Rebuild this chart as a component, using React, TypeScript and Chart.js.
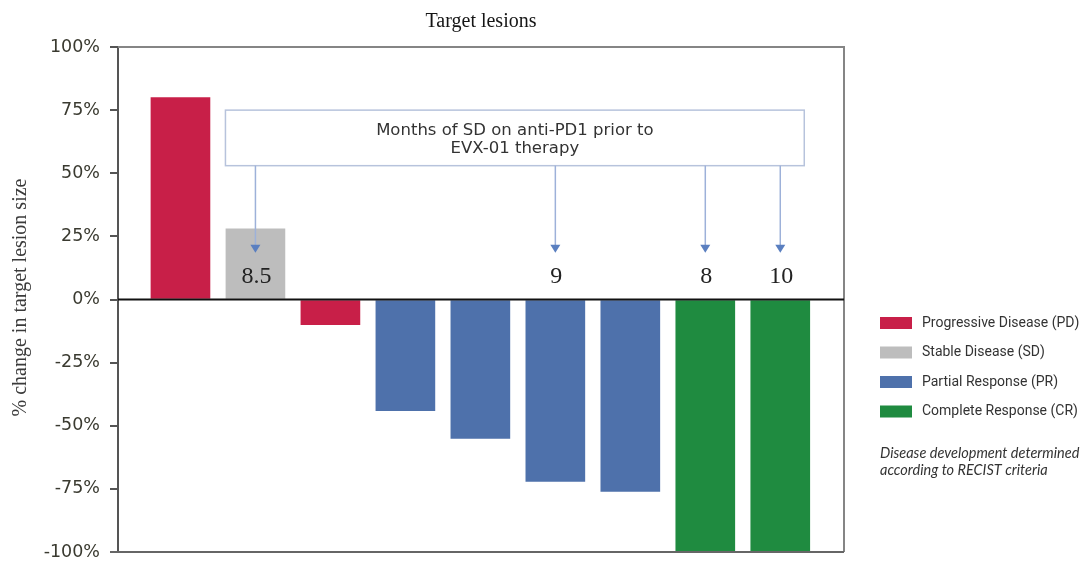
import React, { useEffect, useRef } from 'react';
import { Chart, registerables } from 'chart.js';

Chart.register(...registerables);

const patients = [1, 2, 3, 4, 5, 6, 7, 8, 9];
const changes = [80, 28, -10, -44, -55, -72, -76, -100, -100];
const responses = ['PD', 'SD', 'PD', 'PR', 'PR', 'PR', 'PR', 'CR', 'CR'];
const monthsSD: (string | null)[] = [null, '8.5', null, null, null, '9', null, '8', '10'];
const yTickValues = [100, 75, 50, 25, 0, -25, -50, -75, -100];
const responseKeys = ['PD', 'SD', 'PR', 'CR'];
const responseLabels = [
  'Progressive Disease (PD)',
  'Stable Disease (SD)',
  'Partial Response (PR)',
  'Complete Response (CR)',
];
const responseColors = ['#c81f48', '#bdbdbd', '#4e71ab', '#1f8b40'];
const titleText = 'Target lesions';
const yTitleText = '% change in target lesion size';
const boxLines = ['Months of SD on anti-PD1 prior to', 'EVX-01 therapy'];
const noteLines = ['Disease development determined', 'according to RECIST criteria'];

const overlayPlugin = {
  id: 'overlay',
  afterDraw(chart: any) {
    const ctx = chart.ctx;
    const area = chart.chartArea;
    const xs = chart.scales.x;
    const ys = chart.scales.y;
    ctx.save();

    // frame
    ctx.strokeStyle = '#858585';
    ctx.lineWidth = 2;
    ctx.beginPath();
    ctx.moveTo(area.left, area.top);
    ctx.lineTo(area.right, area.top);
    ctx.lineTo(area.right, area.bottom);
    ctx.stroke();
    ctx.strokeStyle = '#666';
    ctx.beginPath();
    ctx.moveTo(area.left - 8, area.bottom);
    ctx.lineTo(area.right, area.bottom);
    ctx.stroke();

    // zero line
    const y0 = ys.getPixelForValue(0);
    ctx.strokeStyle = '#111';
    ctx.lineWidth = 2;
    ctx.beginPath();
    ctx.moveTo(area.left, y0);
    ctx.lineTo(area.right, y0);
    ctx.stroke();

    // title
    ctx.fillStyle = '#151515';
    ctx.font = '20px "Liberation Serif", serif';
    ctx.textAlign = 'center';
    ctx.textBaseline = 'middle';
    ctx.fillText(titleText, (area.left + area.right) / 2, 22);

    // y title
    ctx.save();
    ctx.translate(21, (area.top + area.bottom) / 2 - 2);
    ctx.rotate(-Math.PI / 2);
    ctx.font = '20px "Liberation Serif", serif';
    ctx.fillStyle = '#3a3a3a';
    ctx.fillText(yTitleText, 0, 0);
    ctx.restore();

    // annotation box
    const bx1 = xs.getPixelForValue(1.6);
    const bx2 = xs.getPixelForValue(9.32);
    const by1 = ys.getPixelForValue(75);
    const by2 = ys.getPixelForValue(53);
    ctx.fillStyle = '#ffffff';
    ctx.fillRect(bx1, by1, bx2 - bx1, by2 - by1);
    ctx.strokeStyle = '#b7c3dc';
    ctx.lineWidth = 1.5;
    ctx.strokeRect(bx1, by1, bx2 - bx1, by2 - by1);
    ctx.fillStyle = '#333';
    ctx.font = '16.5px "DejaVu Sans", sans-serif';
    ctx.textAlign = 'center';
    ctx.textBaseline = 'middle';
    const bcx = (bx1 + bx2) / 2;
    ctx.fillText(boxLines[0], bcx, by1 + 21);
    ctx.fillText(boxLines[1], bcx, by1 + 39);

    // arrows and month labels
    monthsSD.forEach((m, i) => {
      if (m == null) return;
      const x = xs.getPixelForValue(patients[i]);
      const tip = ys.getPixelForValue(18.5);
      ctx.strokeStyle = '#9db1d9';
      ctx.lineWidth = 1.5;
      ctx.beginPath();
      ctx.moveTo(x, by2);
      ctx.lineTo(x, tip - 6);
      ctx.stroke();
      ctx.fillStyle = '#5a7fc0';
      ctx.beginPath();
      ctx.moveTo(x - 5, tip - 8);
      ctx.lineTo(x + 5, tip - 8);
      ctx.lineTo(x, tip);
      ctx.closePath();
      ctx.fill();
      ctx.fillStyle = '#222';
      ctx.font = '24px "Liberation Serif", serif';
      ctx.textAlign = 'center';
      ctx.textBaseline = 'middle';
      ctx.fillText(m, x + 1, ys.getPixelForValue(9));
    });

    // legend
    const lx = area.right + 36;
    const ly0 = 323;
    responseLabels.forEach((lab, i) => {
      const y = ly0 + i * 29.5;
      ctx.fillStyle = responseColors[i];
      ctx.fillRect(lx, y - 6, 32, 12);
      ctx.fillStyle = '#333';
      ctx.font = '14px Roboto, sans-serif';
      ctx.textAlign = 'left';
      ctx.textBaseline = 'middle';
      ctx.fillText(lab, lx + 42, y);
    });
    ctx.font = 'italic 14.5px Lato, sans-serif';
    ctx.fillStyle = '#333';
    ctx.textAlign = 'left';
    ctx.fillText(noteLines[0], lx, 453);
    ctx.fillText(noteLines[1], lx, 470);

    ctx.restore();
  },
};

export default function App() {
  const ref = useRef<HTMLCanvasElement | null>(null);
  useEffect(() => {
    if (!ref.current) return;
    const chart = new Chart(ref.current, {
      type: 'bar',
      data: {
        datasets: [
          {
            data: patients.map((p, i) => ({ x: p, y: changes[i] })),
            backgroundColor: responses.map((r) => responseColors[responseKeys.indexOf(r)]),
            borderWidth: 0,
            barThickness: 59,
          } as any,
        ],
      },
      options: {
        animation: false,
        responsive: true,
        maintainAspectRatio: false,
        layout: { padding: { left: 0, top: 47, right: 244, bottom: 10 } },
        plugins: { legend: { display: false }, tooltip: { enabled: false } },
        scales: {
          x: {
            type: 'linear',
            min: 0.167,
            max: 9.85,
            offset: false,
            grid: { offset: false },
            display: false,
          },
          y: {
            min: -100,
            max: 100,
            afterBuildTicks: (scale: any) => {
              scale.ticks = yTickValues.map((v) => ({ value: v }));
            },
            afterFit: (scale: any) => {
              scale.width = 118;
              scale.paddingTop = 0;
              scale.paddingBottom = 0;
            },
            ticks: {
              callback: (v: any) => v + '%',
              color: '#3a3a30',
              padding: 10,
              font: { family: '"DejaVu Sans", sans-serif', size: 17.5 },
            },
            grid: {
              drawOnChartArea: false,
              drawTicks: true,
              tickLength: 8,
              color: '#555',
              lineWidth: 2,
            },
            border: { display: true, color: '#555', width: 2 },
          },
        },
      },
      plugins: [overlayPlugin],
    } as any);
    return () => chart.destroy();
  }, []);
  return (
    <div style={{ position: 'fixed', left: 0, top: 0, width: 1088, height: 562, background: '#fff' }}>
      <canvas ref={ref} />
    </div>
  );
}
